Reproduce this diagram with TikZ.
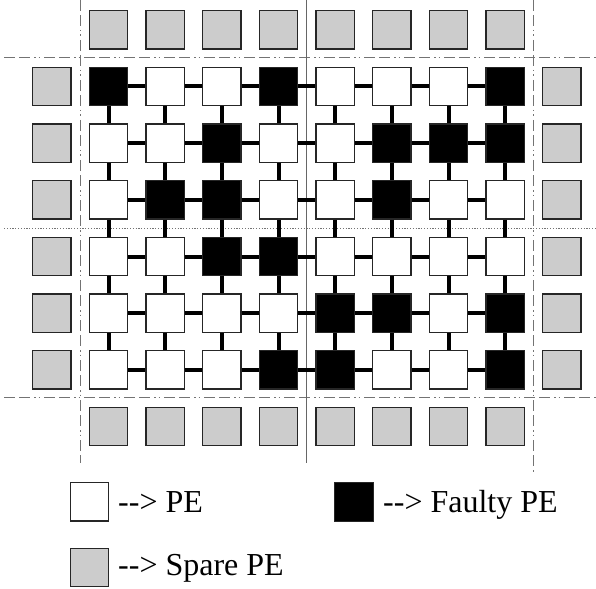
\documentclass[tikz,border=0pt]{standalone}
\usepackage{fontspec}
\setmainfont{Liberation Serif}
\begin{document}
\begin{tikzpicture}[x=1pt,y=-1pt,
  pe/.style={draw=black!85, line width=1.2pt, minimum size=38.4pt, inner sep=0pt, fill=white},
  faulty/.style={pe, fill=black},
  spare/.style={pe, fill=black!20},
  link/.style={line width=4pt, black},
  dashdot/.style={black!55, line width=1pt,
    dash pattern=on 11pt off 4pt on 11pt off 4pt on 1.5pt off 3pt on 1.5pt off 4pt},
  dotline/.style={black!55, line width=1pt, dash pattern=on 1.2pt off 1.6pt},
  midline/.style={black!60, line width=0.8pt},
  legend/.style={anchor=base west, inner sep=0pt, font=\fontsize{32}{38}\selectfont}]
\useasboundingbox (0,0) rectangle (596,588);

% partition lines
\coordinate (hA1) at (4,58);     \coordinate (hA2) at (596,58);
\coordinate (hB1) at (4,228.3);  \coordinate (hB2) at (596,228.3);
\coordinate (hC1) at (4,397.5);  \coordinate (hC2) at (596,397.5);
\coordinate (vL1) at (80,0);     \coordinate (vL2) at (80,463);
\coordinate (vR1) at (533.3,0);  \coordinate (vR2) at (533.3,472);
\coordinate (vM1) at (306.7,0);  \coordinate (vM2) at (306.7,463);
\draw[dashdot] (hA1) -- (hA2);
\draw[dashdot] (hC1) -- (hC2);
\draw[dotline] (hB1) -- (hB2);
\draw[dashdot] (vL1) -- (vL2);
\draw[dashdot] (vR1) -- (vR2);
\draw[midline] (vM1) -- (vM2);

% 6 x 8 array of processing elements
\foreach \r in {1,...,6}{
  \foreach \c in {1,...,8}{
    \node[pe] (p-\r-\c) at ({108.5+(\c-1)*56.67},{86.5+(\r-1)*56.67}) {};
  }
}

% faulty elements
\foreach \r/\c in {1/1,1/4,1/8,2/3,2/6,2/7,2/8,3/2,3/3,3/6,
                   4/3,4/4,5/5,5/6,5/8,6/4,6/5,6/8}{
  \node[faulty] (p-\r-\c) at (p-\r-\c.center) {};
}

% spare rows and columns
\foreach \c in {1,...,8}{
  \node[spare] (st-\c) at ({108.5+(\c-1)*56.67},29.8) {};
  \node[spare] (sb-\c) at ({108.5+(\c-1)*56.67},426.5) {};
}
\foreach \r in {1,...,6}{
  \node[spare] (sl-\r) at (51.8,{86.5+(\r-1)*56.67}) {};
  \node[spare] (sr-\r) at (561.8,{86.5+(\r-1)*56.67}) {};
}

% mesh links: along rows
\foreach \r in {1,...,6}{
  \foreach \c in {1,...,7}{
    \pgfmathtruncatemacro{\nc}{\c+1}
    \draw[link] (p-\r-\c) -- (p-\r-\nc);
  }
}
% mesh links: along columns
\foreach \r in {1,...,5}{
  \foreach \c in {1,...,8}{
    \pgfmathtruncatemacro{\nr}{\r+1}
    \draw[link] (p-\r-\c) -- (p-\nr-\c);
  }
}

% legend
\node[pe] (lg-pe) at (89.3,501.7) {};
\node[faulty] (lg-f) at (354,502) {};
\node[spare] (lg-s) at (89.3,567.5) {};
\node[legend] (lt-pe) at (118,512) {-{}-> PE};
\node[legend] (lt-f) at (383,512) {-{}-> Faulty PE};
\node[legend] (lt-s) at (118,575) {-{}-> Spare PE};
\end{tikzpicture}
\end{document}
